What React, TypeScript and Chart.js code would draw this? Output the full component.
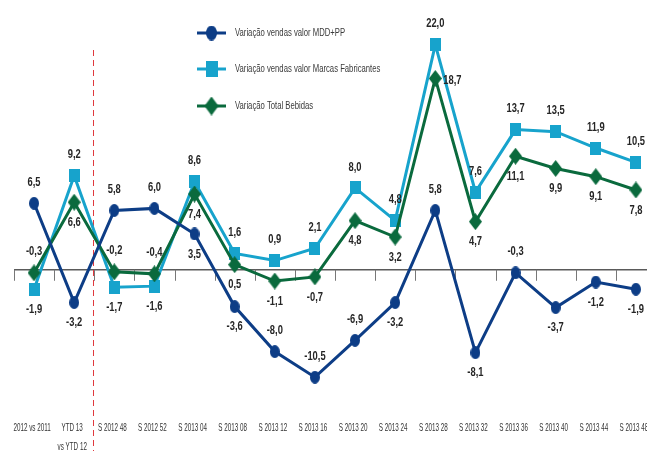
import React, { useEffect, useRef } from "react";
import { Chart, registerables } from "chart.js";

Chart.register(...registerables);

const categories: (string | string[])[] = [
  "2012 vs 2011",
  ["YTD 13", "vs YTD 12"],
  "S 2012 48",
  "S 2012 52",
  "S 2013 04",
  "S 2013 08",
  "S 2013 12",
  "S 2013 16",
  "S 2013 20",
  "S 2013 24",
  "S 2013 28",
  "S 2013 32",
  "S 2013 36",
  "S 2013 40",
  "S 2013 44",
  "S 2013 48",
];

const mddValues = [6.5, -3.2, 5.8, 6.0, 3.5, -3.6, -8.0, -10.5, -6.9, -3.2, 5.8, -8.1, -0.3, -3.7, -1.2, -1.9];
const marcasValues = [-1.9, 9.2, -1.7, -1.6, 8.6, 1.6, 0.9, 2.1, 8.0, 4.8, 22.0, 7.6, 13.7, 13.5, 11.9, 10.5];
const bebidasValues = [-0.3, 6.6, -0.2, -0.4, 7.4, 0.5, -1.1, -0.7, 4.8, 3.2, 18.7, 4.7, 11.1, 9.9, 9.1, 7.8];

const seriesNames = [
  "Variação vendas valor MDD+PP",
  "Variação vendas valor Marcas Fabricantes",
  "Variação Total Bebidas",
];

// label placement: t = above, b = below, r = right
const mddPlace = ["t", "b", "t", "t", "b", "b", "t", "t", "t", "b", "t", "b", "t", "b", "b", "b"];
const marcasPlace = ["b", "t", "b", "b", "t", "t", "t", "t", "t", "t", "t", "t", "t", "t", "t", "t"];
const bebidasPlace = ["t", "b", "t", "t", "b", "b", "b", "b", "b", "b", "r", "b", "b", "b", "b", "b"];

const DARK = "#0d3d86";
const LIGHT = "#17a3cc";
const GREEN = "#0a6a3d";

const FONT = "'Liberation Sans', Arial, sans-serif";
const CANVAS_W = 666;

function makeMarker(kind: string, w: number, h: number, color: string): HTMLCanvasElement {
  const c = document.createElement("canvas");
  c.width = w;
  c.height = h;
  const ctx = c.getContext("2d")!;
  ctx.fillStyle = color;
  ctx.beginPath();
  if (kind === "circle") {
    ctx.ellipse(w / 2, h / 2, w / 2, h / 2, 0, 0, Math.PI * 2);
  } else if (kind === "rect") {
    ctx.rect(0, 0, w, h);
  } else {
    ctx.moveTo(w / 2, 0);
    ctx.lineTo(w, h / 2);
    ctx.lineTo(w / 2, h);
    ctx.lineTo(0, h / 2);
    ctx.closePath();
  }
  ctx.fill();
  return c;
}

function fmt(v: number): string {
  return v.toFixed(1).replace(".", ",");
}

function narrowText(ctx: CanvasRenderingContext2D, txt: string, x: number, y: number, align: CanvasTextAlign, sx: number) {
  ctx.save();
  ctx.translate(x, y);
  ctx.scale(sx, 1);
  ctx.textAlign = align;
  ctx.fillText(txt, 0, 0);
  ctx.restore();
}

export default function App() {
  const ref = useRef<HTMLCanvasElement | null>(null);

  useEffect(() => {
    if (!ref.current) return;
    const places = [mddPlace, marcasPlace, bebidasPlace];
    const markers = [
      makeMarker("circle", 10, 13, DARK),
      makeMarker("rect", 11, 13, LIGHT),
      makeMarker("diamond", 13, 17, GREEN),
    ];
    const legendMarkers = [
      makeMarker("circle", 11, 15, DARK),
      makeMarker("rect", 12, 16, LIGHT),
      makeMarker("diamond", 14, 19, GREEN),
    ];

    const axisPlugin = {
      id: "zeroAxis",
      beforeDatasetsDraw(chart: any) {
        const { ctx, chartArea } = chart;
        const xs = chart.scales.x;
        const ys = chart.scales.y;
        const y0 = ys.getPixelForValue(0);
        const n = categories.length;
        const half = (xs.getPixelForValue(1) - xs.getPixelForValue(0)) / 2;
        ctx.save();
        ctx.strokeStyle = "#5a5a5a";
        ctx.lineWidth = 1.5;
        ctx.beginPath();
        ctx.moveTo(chartArea.left, y0);
        ctx.lineTo(chartArea.right, y0);
        ctx.stroke();
        ctx.strokeStyle = "#777";
        ctx.lineWidth = 1;
        for (let i = 0; i <= n; i++) {
          const x = Math.round(xs.getPixelForValue(i) - half) + 0.5;
          ctx.beginPath();
          ctx.moveTo(x, y0);
          ctx.lineTo(x, y0 + 11);
          ctx.stroke();
        }
        // dashed separator between YTD and weekly data
        const xd = Math.round(xs.getPixelForValue(2) - half) - 0.5;
        ctx.strokeStyle = "#e0393e";
        ctx.lineWidth = 1;
        ctx.setLineDash([6, 4]);
        ctx.beginPath();
        ctx.moveTo(xd, 50);
        ctx.lineTo(xd, chart.height);
        ctx.stroke();
        ctx.restore();

        // category labels, positioned by the category scale
        ctx.save();
        ctx.font = `10.5px ${FONT}`;
        ctx.fillStyle = "#333";
        ctx.textBaseline = "middle";
        const yl = chartArea.bottom + 15;
        chart.data.labels.forEach((lab: any, i: number) => {
          const x = xs.getPixelForValue(i) - 2;
          const lines = Array.isArray(lab) ? lab : [lab];
          lines.forEach((ln: string, k: number) => {
            narrowText(ctx, ln, x, yl + k * 19, "center", 0.6);
          });
        });
        ctx.restore();
      },
    };

    const labelPlugin = {
      id: "valueLabels",
      afterDatasetsDraw(chart: any) {
        const { ctx } = chart;
        ctx.save();
        ctx.font = `bold 13px ${FONT}`;
        ctx.fillStyle = "#262626";
        ctx.textBaseline = "middle";
        chart.data.datasets.forEach((ds: any, di: number) => {
          const meta = chart.getDatasetMeta(di);
          meta.data.forEach((pt: any, i: number) => {
            const p = places[di][i];
            const txt = fmt(ds.data[i]);
            if (p === "r") {
              narrowText(ctx, txt, pt.x + 8, pt.y + 2, "left", 0.72);
            } else {
              narrowText(ctx, txt, pt.x, p === "t" ? pt.y - 21 : pt.y + 20, "center", 0.72);
            }
          });
        });
        ctx.restore();
      },
    };

    const legendPlugin = {
      id: "customLegend",
      afterDraw(chart: any) {
        const { ctx } = chart;
        const rows = [33, 69, 106];
        ctx.save();
        chart.data.datasets.forEach((ds: any, di: number) => {
          const y = rows[di];
          ctx.strokeStyle = ds.borderColor;
          ctx.lineWidth = 3;
          ctx.beginPath();
          ctx.moveTo(197, y);
          ctx.lineTo(226, y);
          ctx.stroke();
          const m = legendMarkers[di];
          ctx.drawImage(m, 211.5 - m.width / 2, y - m.height / 2);
          ctx.font = `11px ${FONT}`;
          ctx.fillStyle = "#3a3a3a";
          ctx.textBaseline = "middle";
          narrowText(ctx, ds.label, 235, y, "left", 0.7);
        });
        ctx.restore();
      },
    };

    const chart = new Chart(ref.current, {
      type: "line",
      data: {
        labels: categories,
        datasets: [
          {
            label: seriesNames[0],
            data: mddValues,
            borderColor: DARK,
            backgroundColor: DARK,
            borderWidth: 3,
            pointStyle: markers[0] as any,
            pointRadius: 6,
            order: 0,
          },
          {
            label: seriesNames[1],
            data: marcasValues,
            borderColor: LIGHT,
            backgroundColor: LIGHT,
            borderWidth: 3,
            pointStyle: markers[1] as any,
            pointRadius: 6,
            order: 2,
          },
          {
            label: seriesNames[2],
            data: bebidasValues,
            borderColor: GREEN,
            backgroundColor: GREEN,
            borderWidth: 3,
            pointStyle: markers[2] as any,
            pointRadius: 7,
            order: 1,
          },
        ],
      },
      options: {
        responsive: false,
        animation: false,
        layout: { padding: { left: 14, right: CANVAS_W - 656, top: 14, bottom: 38 } },
        plugins: {
          legend: { display: false },
          tooltip: { enabled: false },
        },
        scales: {
          x: {
            display: false,
            offset: true,
          },
          y: {
            display: false,
            min: -14,
            max: 25,
          },
        },
      },
      plugins: [axisPlugin, labelPlugin, legendPlugin],
    });
    return () => chart.destroy();
  }, []);

  return (
    <div style={{ position: "fixed", left: 0, top: 0, width: CANVAS_W, height: 451, background: "#fff" }}>
      <canvas ref={ref} width={CANVAS_W} height={451} style={{ width: CANVAS_W, height: 451, display: "block" }} />
    </div>
  );
}
